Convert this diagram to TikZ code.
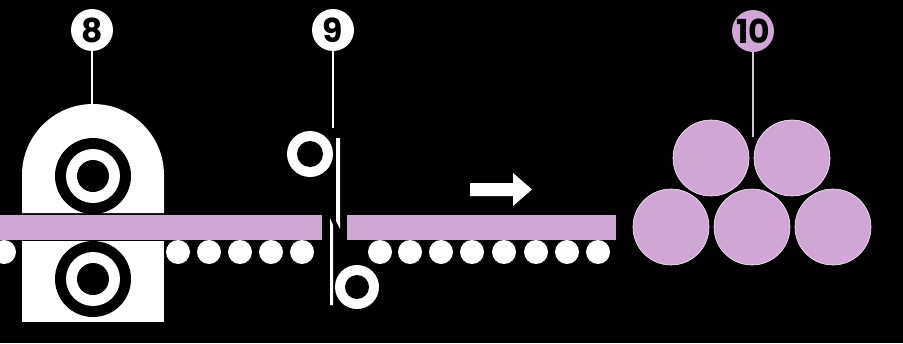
\documentclass[tikz,border=0pt]{standalone}
\usepackage{fontspec}
\newfontfamily\labelfont{Poppins}
\definecolor{lilac}{RGB}{208,166,212}
\definecolor{lilacline}{RGB}{215,195,215}
\tikzset{
  tag/.style={circle, fill=white, text=black, minimum size=42pt, inner sep=0pt,
              font=\labelfont\bfseries\fontsize{33}{33}\selectfont},
  leader/.style={white, line width=1.6pt},
  roller/.style={fill=white},
  bar/.style={fill=lilac},
  billet/.style={fill=lilac, draw=white!85!lilac, line width=0.6pt},
}
\begin{document}
\begin{tikzpicture}[x=1pt,y=-1pt]
  % background and frame
  \fill[black] (0,0) rectangle (903,343);
  \useasboundingbox (0,0) rectangle (903,343);

  % ---- rolling stand 8 ----
  \fill[white] (22,213) -- (22,175) arc[start angle=180,end angle=360,radius=71]
     -- (164,213) -- cycle;
  \fill[white] (22,241) rectangle (164,322);
  \coordinate (standtop) at (93,104);
  % work rolls
  \foreach \cy in {176,279}{
    \fill[black] (93,\cy) circle[radius=38];
    \fill[white] (93,\cy) circle[radius=27];
    \fill[black] (93,\cy) circle[radius=16];
  }

  % ---- run-out rollers ----
  \foreach \cx in {4,178,209,240,271,302,380,410,441,472,504,536,567,598}{
    \fill[roller] (\cx,252) circle[radius=12];
  }

  % ---- rolled bar, before and after the shear ----
  \fill[bar] (0,214.5) rectangle (322,240);
  \fill[bar] (347,214.5) rectangle (616,240);

  % ---- flying shear 9 ----
  \fill[white] (310,154) circle[radius=23];
  \fill[black] (310,154) circle[radius=13];
  \fill[white] (357,287) circle[radius=22];
  \fill[black] (357,287) circle[radius=12];
  \fill[white] (336,138) -- (340,138) -- (340,229) -- (336,221) -- cycle;
  \fill[white] (330,218) -- (333,225) -- (333,305) -- (330,305) -- cycle;
  \coordinate (sheartop) at (334,128);

  % ---- travel direction ----
  \fill[white] (470,183) -- (513,183) -- (513,173) -- (532,189.5)
     -- (513,206) -- (513,196) -- (470,196) -- cycle;

  % ---- cooling bed stack 10 ----
  \foreach \cx/\cy in {711/158, 792/158, 671/227, 752/227, 833/227}{
    \fill[billet] (\cx,\cy) circle[radius=38];
  }
  \coordinate (stacktop) at (753,137);

  % ---- callouts ----
  \node[tag] (l8) at (92,30) {8};
  \node[tag] (l9) at (333,30) {9};
  \node[tag, fill=lilac] (l10) at (753,31) {10};
  \draw[leader] (l8.south) -- (l8.south |- standtop);
  \draw[leader] (l9.south) -- (l9.south |- sheartop);
  \draw[leader, lilacline] (l10.south) -- (stacktop);
\end{tikzpicture}
\end{document}
